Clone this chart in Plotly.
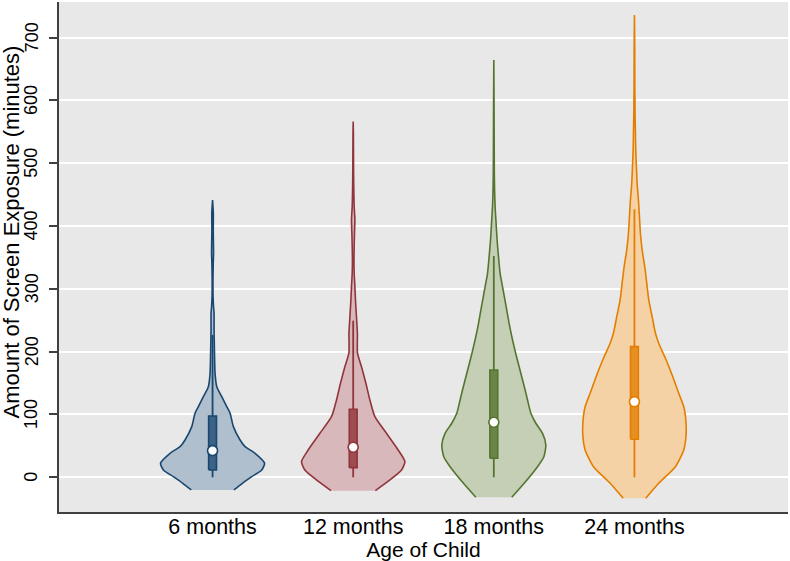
import plotly.graph_objects as go

categories = ["6 months", "12 months", "18 months", "24 months"]
positions = [1, 2, 3, 4]

# Violin density profiles:
# y = screen minutes, d = relative half-width of the violin (max = 1)
v6_y = [-20.2, -9.6, 1.0, 11.6, 22.3, 38.2, 48.7, 59.4, 80.6, 101.9, 112.4, 128.3, 144.3,
        165.5, 208, 234.6, 261, 271.7, 287.6, 314.2, 340.8, 356.7, 393.8, 420.4, 441.6]
v6_d = [0.41, 0.573, 0.754, 0.946, 1.0, 0.817, 0.625, 0.529, 0.40, 0.337, 0.273, 0.177, 0.081,
        0.048, 0.035, 0.029, 0.029, 0.019, 0.010, 0.008, 0.013, 0.019, 0.013, 0.015, 0.0]

v12_y = [-21.3, -4.3, 11.6, 24.9, 43.5, 70, 96.5, 123, 149.7, 176.1, 197.5, 229.3, 255.7,
         282.3, 303.5, 324.8, 346, 367.2, 388.5, 409.7, 431, 452.2, 468.2, 494.6, 547.8, 566.3]
v12_d = [0.427, 0.706, 0.929, 0.994, 0.865, 0.64, 0.417, 0.321, 0.244, 0.16, 0.083, 0.081, 0.063,
         0.044, 0.033, 0.019, 0.015, 0.019, 0.025, 0.033, 0.019, 0.013, 0.010, 0.007, 0.004, 0.0]

v18_y = [-31.8, -9.6, 16.9, 32.8, 51.4, 70, 86, 101.9, 123.1, 139, 165.6, 192, 218.6, 245.2,
         271.7, 298.2, 324.8, 351.3, 377.9, 404.5, 431, 457.5, 484, 537, 590, 664.5]
v18_d = [0.346, 0.583, 0.84, 0.962, 1.0, 0.937, 0.808, 0.712, 0.648, 0.602, 0.519, 0.437, 0.36, 0.294,
         0.237, 0.179, 0.121, 0.09, 0.063, 0.044, 0.025, 0.015, 0.010, 0.007, 0.005, 0.0]

v24_y = [-33.4, -9.6, 16.9, 43.5, 70, 96.5, 112.4, 133.7, 160.2, 186.8, 213.4, 229.3, 255.7, 282.3,
         308.9, 335.4, 362, 388.5, 415, 441.6, 468.2, 494.6, 521.2, 547.8, 574.2, 600.8, 627.4, 680.4, 736.1]
v24_d = [0.217, 0.467, 0.788, 0.948, 0.994, 0.981, 0.948, 0.852, 0.737, 0.61, 0.467, 0.404, 0.34, 0.275,
         0.237, 0.198, 0.148, 0.115, 0.096, 0.077, 0.052, 0.038, 0.025, 0.019, 0.013, 0.010, 0.007, 0.006, 0.0]

# Box plot statistics
q1 = [11.6, 15.3, 30.2, 60.5]
medians = [42.4, 47.8, 87.6, 120.4]
q3 = [97.6, 108.3, 170.9, 208.0]
whisker_lo = [0, 0, 0, 0]
whisker_hi = [226.6, 249.4, 352.4, 426.8]

y_ticks = [0, 100, 200, 300, 400, 500, 600, 700]
x_title = "Age of Child"
y_title = "Amount of Screen Exposure (minutes)"

line_colors = ["#1a476f", "#90353b", "#55752f", "#e37e00"]
fill_colors = ["#afbfcd", "#d8b8ba", "#c4cfb6", "#f5d2a6"]
box_fills = ["#3c6385", "#9e4c52", "#6a8547", "#e68f22"]

profiles = [(v6_y, v6_d), (v12_y, v12_d), (v18_y, v18_d), (v24_y, v24_d)]
HALF = 0.37      # max violin half-width in category units
BOX_HALF = 0.028  # box half-width in category units

FONT = "Liberation Sans, Arial, Helvetica, sans-serif"

fig = go.Figure()
for i, (ys, ds) in enumerate(profiles):
    p = positions[i]
    c = line_colors[i]
    # violin body
    xs = [p - HALF * d for d in ds] + [p + HALF * d for d in reversed(ds)]
    yy = list(ys) + list(reversed(ys))
    fig.add_trace(go.Scatter(
        x=xs, y=yy, mode="lines", fill="toself",
        fillcolor=fill_colors[i],
        line=dict(color=c, width=1.6, shape="spline", smoothing=0.6),
        hoverinfo="skip", showlegend=False,
    ))
    # whiskers
    fig.add_trace(go.Scatter(
        x=[p, p, None, p, p],
        y=[whisker_lo[i], q1[i], None, q3[i], whisker_hi[i]],
        mode="lines", line=dict(color=c, width=1.8),
        hoverinfo="skip", showlegend=False,
    ))
    # box
    fig.add_trace(go.Scatter(
        x=[p - BOX_HALF, p + BOX_HALF, p + BOX_HALF, p - BOX_HALF, p - BOX_HALF],
        y=[q1[i], q1[i], q3[i], q3[i], q1[i]],
        mode="lines", fill="toself", fillcolor=box_fills[i],
        line=dict(color=c, width=1.6),
        hoverinfo="skip", showlegend=False,
    ))

fig.add_trace(go.Scatter(
    x=positions, y=medians, mode="markers",
    marker=dict(color="white", size=10,
                line=dict(color=line_colors, width=1.6)),
    showlegend=False, hoverinfo="skip",
))

fig.update_layout(
    width=790, height=561,
    margin=dict(l=59, r=2, t=2, b=49),
    plot_bgcolor="#e8e8e8", paper_bgcolor="white",
    font=dict(family=FONT, color="black"),
    showlegend=False,
)
fig.update_xaxes(
    range=[-0.092, 5.092],
    tickvals=positions, ticktext=categories,
    tickfont=dict(size=21.5),
    ticks="", showgrid=False, zeroline=False,
    ticklabelstandoff=-6,
    showline=True, linecolor="#404040", linewidth=2,
    title=dict(text=x_title, font=dict(size=21), standoff=0),
)
fig.update_yaxes(
    range=[-55.3, 756.8],
    tickvals=y_ticks,
    showticklabels=False,
    ticks="outside", ticklen=8, tickwidth=2, tickcolor="#404040",
    showgrid=True, gridcolor="white", gridwidth=2,
    zeroline=False,
    showline=True, linecolor="#404040", linewidth=2,
)
# rotated y tick labels
for v in y_ticks:
    fig.add_annotation(
        text=str(v), textangle=-90, showarrow=False,
        xref="paper", x=0, xanchor="center", xshift=-27.5,
        yref="y", y=v, yanchor="middle",
        font=dict(size=18, family=FONT, color="black"),
    )
fig.add_annotation(
    text=y_title, textangle=-90, showarrow=False,
    xref="paper", x=0, xanchor="center", xshift=-47,
    yref="paper", y=0.548, yanchor="middle",
    font=dict(size=22, family=FONT, color="black"),
)

fig.write_html("out.html", config={"displayModeBar": False},
               post_script="document.body.style.margin='0';")
